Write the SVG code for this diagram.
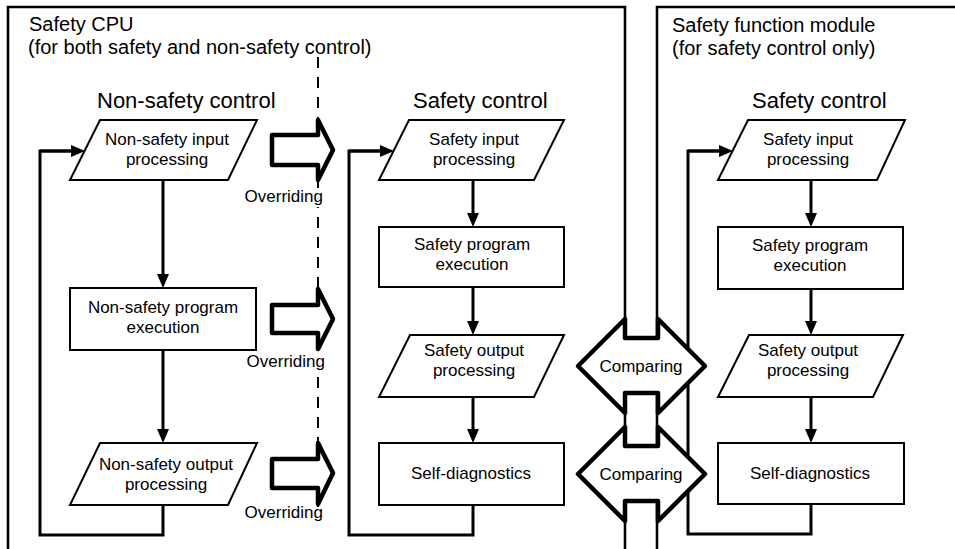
<svg xmlns="http://www.w3.org/2000/svg" width="955" height="549" viewBox="0 0 955 549">
<defs>
<marker id="ah" markerUnits="userSpaceOnUse" markerWidth="14" markerHeight="12" refX="6" refY="6" orient="auto">
<path d="M0,0 L14,6 L0,12 z" fill="#000"/>
</marker>
<style>
text{font-family:"Liberation Sans",Arial,sans-serif;fill:#000}
.title{font-size:20px}
.head{font-size:22px}
.lbl{font-size:17px;text-anchor:middle}
.ovr{font-size:17px;text-anchor:end;stroke:#fff;stroke-width:4px;paint-order:stroke;stroke-linejoin:round}
.node{fill:#fff;stroke:#000;stroke-width:2}
.panel{fill:none;stroke:#000;stroke-width:2.6}
.conn{fill:none;stroke:#000;stroke-width:3;marker-end:url(#ah)}
.loop{fill:none;stroke:#000;stroke-width:3}
.big{fill:#fff;stroke:#000;stroke-width:4.5;stroke-linejoin:round}
.dash{fill:none;stroke:#000;stroke-width:2;stroke-dasharray:11 9}
</style>
</defs>
<rect width="955" height="549" fill="#fff"/>

<g id="panels">
<path class="panel" d="M8,552 V7 H625 V552"/>
<path class="panel" d="M657,552 V7 H960"/>
<text class="title" x="29" y="31">Safety CPU</text>
<text class="title" x="28" y="54">(for both safety and non-safety control)</text>
<text class="title" x="672" y="32">Safety function module</text>
<text class="title" x="672" y="55">(for safety control only)</text>
<text class="head" x="97" y="108">Non-safety control</text>
<text class="head" x="413" y="108">Safety control</text>
<text class="head" x="752" y="108">Safety control</text>
</g>

<line class="dash" x1="318" y1="57" x2="318" y2="512"/>

<g id="connectors">
<path class="loop" d="M163,505 V535 H40 V151 H76"/>
<path class="conn" d="M40,151 H77"/>
<path class="conn" d="M163,180 V280"/>
<path class="conn" d="M163,350 V435"/>
<path class="loop" d="M473,505 V535 H349 V151 H380"/>
<path class="conn" d="M349,151 H386"/>
<path class="conn" d="M473,180 V219"/>
<path class="conn" d="M473,287 V327"/>
<path class="conn" d="M473,397 V435"/>
<path class="loop" d="M811,504 V534 H688 V151 H720"/>
<path class="conn" d="M688,151 H725"/>
<path class="conn" d="M811,180 V219"/>
<path class="conn" d="M811,289 V327"/>
<path class="conn" d="M811,397 V435"/>
</g>

<g id="n-ns-input">
<polygon class="node" points="100,120 257,120 228,180 70,180"/>
<text class="lbl" x="167" y="145">Non-safety input</text>
<text class="lbl" x="167" y="165">processing</text>
</g>
<g id="n-ns-program">
<rect class="node" x="70" y="288" width="186" height="62"/>
<text class="lbl" x="163" y="313">Non-safety program</text>
<text class="lbl" x="163" y="333">execution</text>
</g>
<g id="n-ns-output">
<polygon class="node" points="100,443 257,443 228,505 70,505"/>
<text class="lbl" x="166" y="470">Non-safety output</text>
<text class="lbl" x="166" y="490">processing</text>
</g>

<g id="n-s-input">
<polygon class="node" points="409,120 564,120 534,180 379,180"/>
<text class="lbl" x="474" y="145">Safety input</text>
<text class="lbl" x="474" y="165">processing</text>
</g>
<g id="n-s-program">
<rect class="node" x="379" y="227" width="185" height="60"/>
<text class="lbl" x="472" y="250">Safety program</text>
<text class="lbl" x="472" y="270">execution</text>
</g>
<g id="n-s-output">
<polygon class="node" points="410,335 564,335 534,397 379,397"/>
<text class="lbl" x="474" y="356">Safety output</text>
<text class="lbl" x="474" y="376">processing</text>
</g>
<g id="n-s-diag">
<rect class="node" x="379" y="443" width="185" height="62"/>
<text class="lbl" x="471" y="479">Self-diagnostics</text>
</g>

<g id="n-m-input">
<polygon class="node" points="748,120 905,120 877,180 718,180"/>
<text class="lbl" x="808" y="145">Safety input</text>
<text class="lbl" x="808" y="165">processing</text>
</g>
<g id="n-m-program">
<rect class="node" x="718" y="227" width="185" height="62"/>
<text class="lbl" x="810" y="251">Safety program</text>
<text class="lbl" x="810" y="271">execution</text>
</g>
<g id="n-m-output">
<polygon class="node" points="749,335 903,335 873,397 718,397"/>
<text class="lbl" x="808" y="356">Safety output</text>
<text class="lbl" x="808" y="376">processing</text>
</g>
<g id="n-m-diag">
<rect class="node" x="718" y="443" width="186" height="61"/>
<text class="lbl" x="810" y="479">Self-diagnostics</text>
</g>

<g id="override-1">
<polygon class="big" points="272,135 318,135 318,120 333,150 318,180 318,165 272,165"/>
<text class="ovr" x="323" y="202">Overriding</text>
</g>
<g id="override-2">
<polygon class="big" points="272,305 318,305 318,289 333,319 318,349 318,333 272,333"/>
<text class="ovr" x="325" y="367">Overriding</text>
</g>
<g id="override-3">
<polygon class="big" points="272,459 318,459 318,443 333,473 318,504 318,488 272,488"/>
<text class="ovr" x="323" y="518">Overriding</text>
</g>

<g id="compare-1">
<polygon class="big" points="578,366 625,319 625,338 658,338 658,319 705,366 658,413 658,393 625,393 625,413"/>
<text class="lbl" x="641" y="372">Comparing</text>
</g>
<g id="compare-2">
<polygon class="big" points="578,474 625,427 625,446 658,446 658,427 705,474 658,521 658,501 625,501 625,521"/>
<text class="lbl" x="641" y="480">Comparing</text>
</g>
</svg>
